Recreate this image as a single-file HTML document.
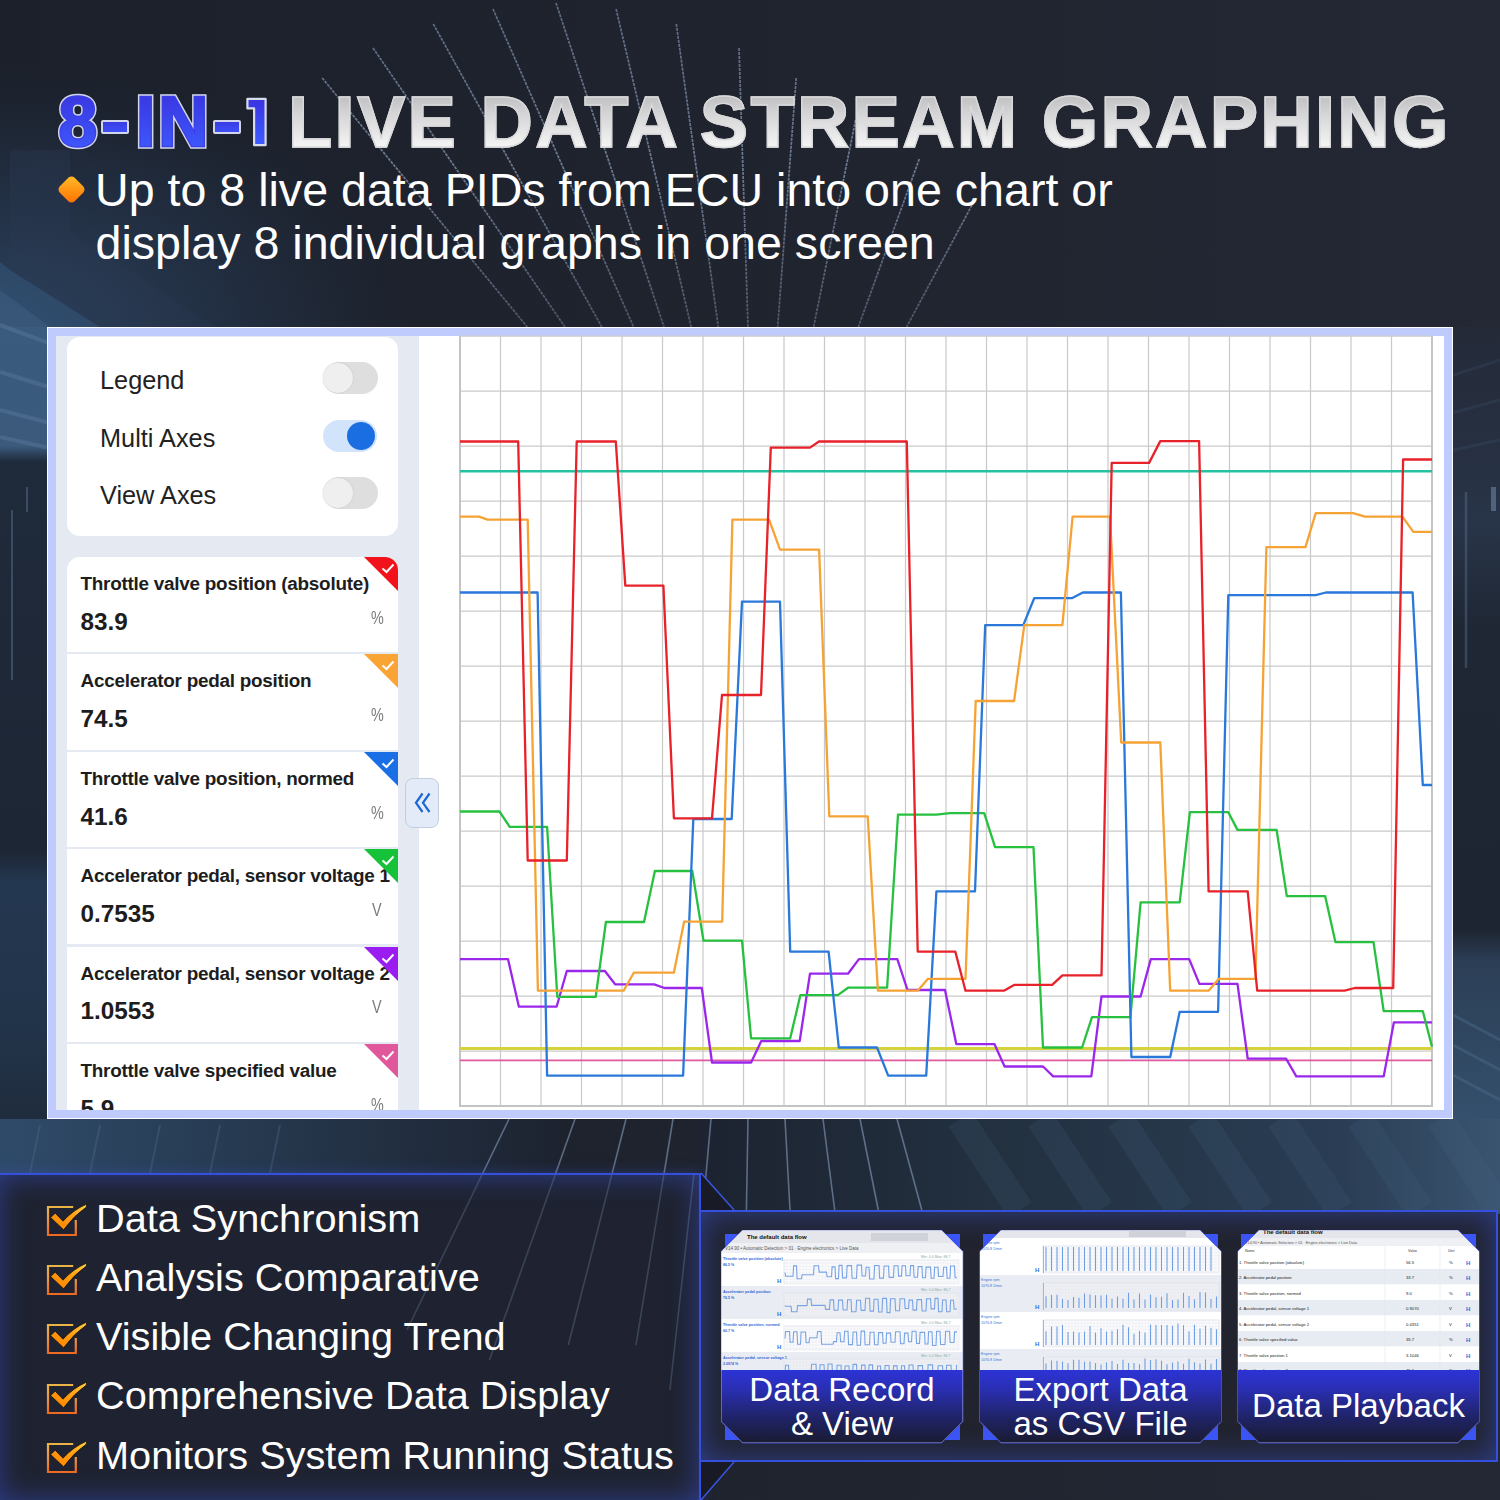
<!DOCTYPE html><html><head><meta charset="utf-8"><title>8-in-1 Live Data Stream Graphing</title>
<style>
*{margin:0;padding:0;box-sizing:border-box}
html,body{width:1500px;height:1500px;overflow:hidden;background:#1f2330}
body{position:relative;font-family:"Liberation Sans",sans-serif}
.abs{position:absolute}
.t1{font-weight:700;font-size:72.5px;line-height:1;white-space:nowrap;letter-spacing:2.25px}
.blue8{background:linear-gradient(180deg,#3a33de,#3d5dff);-webkit-background-clip:text;background-clip:text;-webkit-text-fill-color:transparent}
.silver{background:linear-gradient(180deg,#b4b4b6 0%,#d6d6d8 40%,#ffffff 100%);-webkit-background-clip:text;background-clip:text;color:transparent;-webkit-text-fill-color:transparent;-webkit-text-stroke:1.4px #d9d9da}
.sub{color:#fff;font-size:46.6px;line-height:1;white-space:nowrap}
.card{background:#fff}
.ttl{font-size:18.9px;font-weight:700;color:#1d1d1d;white-space:nowrap;line-height:1;letter-spacing:-0.25px}
.val{font-size:24.3px;font-weight:700;color:#1d1d1d;white-space:nowrap;line-height:1}
.unit{font-size:18px;color:#7a7a7a;line-height:1;transform:scaleX(0.8);transform-origin:left}
.tg{font-size:25.3px;color:#222;line-height:1;white-space:nowrap}
.feat{color:#fff;font-size:39.7px;line-height:1;white-space:nowrap}
.lab{background:linear-gradient(180deg,#2c33d6 0%,#2a2fb4 25%,#1f2366 65%,#191b2e 100%)}
.labt{color:#fff;font-size:33px;line-height:1;text-align:center;white-space:nowrap}
</style></head><body>
<svg class="abs" style="left:0;top:0" width="1500" height="1500" viewBox="0 0 1500 1500">
<defs>
<linearGradient id="bgTop" x1="0" y1="0" x2="1" y2="0">
 <stop offset="0" stop-color="#1b202a"/><stop offset="0.55" stop-color="#20242f"/><stop offset="1" stop-color="#242834"/>
</linearGradient>
<radialGradient id="glowTL" cx="0" cy="1" r="1">
 <stop offset="0" stop-color="#35577c" stop-opacity="1"/><stop offset="0.6" stop-color="#2a4262" stop-opacity="0.5"/><stop offset="1" stop-color="#22324a" stop-opacity="0"/>
</radialGradient>
<linearGradient id="belowL" x1="0" y1="0" x2="1" y2="0">
 <stop offset="0" stop-color="#2f4b6a"/><stop offset="0.45" stop-color="#26394f"/><stop offset="1" stop-color="#1d2330"/>
</linearGradient>
<linearGradient id="belowR" x1="0" y1="0" x2="1" y2="0">
 <stop offset="0" stop-color="#1d2330"/><stop offset="0.35" stop-color="#22303f"/><stop offset="0.8" stop-color="#2a3d54"/><stop offset="1" stop-color="#3a5470"/>
</linearGradient>
<linearGradient id="leftWall" x1="0" y1="0" x2="0" y2="1">
 <stop offset="0" stop-color="#3a5a7e"/><stop offset="0.15" stop-color="#3b5a7c"/><stop offset="0.17" stop-color="#1f2a3a"/>
 <stop offset="0.66" stop-color="#1d2635"/><stop offset="0.7" stop-color="#243750"/><stop offset="0.88" stop-color="#22344a"/><stop offset="1" stop-color="#1f2c3d"/>
</linearGradient>
<linearGradient id="rightWall" x1="0" y1="0" x2="0" y2="1">
 <stop offset="0" stop-color="#242a38"/><stop offset="0.25" stop-color="#283448"/><stop offset="0.38" stop-color="#1f2734"/>
 <stop offset="0.76" stop-color="#1e2532"/><stop offset="0.8" stop-color="#2c3e56"/><stop offset="1" stop-color="#34506c"/>
</linearGradient>
<linearGradient id="stk" gradientUnits="userSpaceOnUse" x1="0" y1="0" x2="0" y2="330">
 <stop offset="0" stop-color="#a9c2e6" stop-opacity="0.45"/><stop offset="0.5" stop-color="#b8cff0" stop-opacity="0.5"/><stop offset="1" stop-color="#b8cff0" stop-opacity="0.3"/>
</linearGradient>
</defs>
<rect x="0" y="0" width="1500" height="1500" fill="url(#bgTop)"/>
<rect x="0" y="60" width="420" height="270" fill="url(#glowTL)" opacity="0.7"/>
<polygon points="10,150 70,150 70,232 215,327 100,327 10,270" fill="#2a3a54" opacity="0.35"/>
<polygon points="0,262 10,270 100,327 0,327" fill="#35557a" opacity="0.55"/>
<polygon points="0,290 50,327 0,327" fill="#4a6c92" opacity="0.3"/>
<rect x="0" y="327" width="47" height="793" fill="url(#leftWall)"/>
<line x1="0" y1="325" x2="47" y2="342.4" stroke="#5a7a9e" stroke-opacity="0.45" stroke-width="4"/>
<line x1="0" y1="372" x2="47" y2="386.5" stroke="#5a7a9e" stroke-opacity="0.45" stroke-width="4"/>
<line x1="0" y1="410" x2="47" y2="422.2" stroke="#5a7a9e" stroke-opacity="0.45" stroke-width="4"/>
<line x1="0" y1="437" x2="47" y2="447.5" stroke="#5a7a9e" stroke-opacity="0.45" stroke-width="4"/>
<line x1="12" y1="510" x2="12" y2="680" stroke="#5a7898" stroke-opacity="0.45" stroke-width="2"/>
<line x1="27" y1="487" x2="27" y2="512" stroke="#5a7898" stroke-opacity="0.45" stroke-width="2"/>
<rect x="1453" y="327" width="47" height="793" fill="url(#rightWall)"/>
<line x1="1466" y1="492" x2="1466" y2="668" stroke="#5a7898" stroke-opacity="0.4" stroke-width="2.5"/>
<rect x="1491" y="487" width="5" height="24" fill="#6a84a0" opacity="0.6"/>
<line x1="1500" y1="360" x2="1453" y2="375.3" stroke="#4a6686" stroke-opacity="0.18" stroke-width="3"/>
<line x1="1500" y1="400" x2="1453" y2="412.8" stroke="#4a6686" stroke-opacity="0.18" stroke-width="3"/>
<line x1="1500" y1="440" x2="1453" y2="450.3" stroke="#4a6686" stroke-opacity="0.18" stroke-width="3"/>
<line x1="1453" y1="1015" x2="1500" y2="1040" stroke="#4c6a8c" stroke-opacity="0.45" stroke-width="3"/>
<line x1="1453" y1="1045" x2="1500" y2="1070" stroke="#4c6a8c" stroke-opacity="0.45" stroke-width="3"/>
<line x1="1453" y1="1075" x2="1500" y2="1100" stroke="#4c6a8c" stroke-opacity="0.45" stroke-width="3"/>
<rect x="0" y="1119" width="560" height="60" fill="url(#belowL)"/>
<rect x="700" y="1119" width="800" height="95" fill="url(#belowR)"/>
<line x1="40" y1="1125" x2="30" y2="1173" stroke="#4f6e90" stroke-opacity="0.35" stroke-width="2"/>
<line x1="100" y1="1125" x2="90" y2="1173" stroke="#4f6e90" stroke-opacity="0.35" stroke-width="2"/>
<line x1="160" y1="1125" x2="150" y2="1173" stroke="#4f6e90" stroke-opacity="0.35" stroke-width="2"/>
<line x1="220" y1="1125" x2="210" y2="1173" stroke="#4f6e90" stroke-opacity="0.35" stroke-width="2"/>
<line x1="280" y1="1125" x2="270" y2="1173" stroke="#4f6e90" stroke-opacity="0.35" stroke-width="2"/>
<line x1="960" y1="1119" x2="1020" y2="1210" stroke="#4a6888" stroke-opacity="0.16" stroke-width="28"/>
<line x1="1040" y1="1119" x2="1100" y2="1210" stroke="#4a6888" stroke-opacity="0.16" stroke-width="28"/>
<line x1="1120" y1="1119" x2="1180" y2="1210" stroke="#4a6888" stroke-opacity="0.16" stroke-width="28"/>
<line x1="1200" y1="1119" x2="1260" y2="1210" stroke="#4a6888" stroke-opacity="0.16" stroke-width="28"/>
<line x1="1280" y1="1119" x2="1340" y2="1210" stroke="#4a6888" stroke-opacity="0.16" stroke-width="28"/>
<line x1="1360" y1="1119" x2="1420" y2="1210" stroke="#4a6888" stroke-opacity="0.16" stroke-width="28"/>
<line x1="1440" y1="1119" x2="1500" y2="1210" stroke="#4a6888" stroke-opacity="0.16" stroke-width="28"/>
<line x1="322.2" y1="78" x2="527.3" y2="327" stroke="url(#stk)" stroke-width="1.7" stroke-dasharray="3 1"/>
<line x1="373.0" y1="48" x2="565.0" y2="327" stroke="url(#stk)" stroke-width="1.7" stroke-dasharray="3 1"/>
<line x1="433.3" y1="24" x2="601.8" y2="327" stroke="url(#stk)" stroke-width="1.7" stroke-dasharray="3 1"/>
<line x1="493.0" y1="9" x2="633.6" y2="327" stroke="url(#stk)" stroke-width="1.7" stroke-dasharray="3 1"/>
<line x1="556.0" y1="3" x2="664.0" y2="327" stroke="url(#stk)" stroke-width="1.7" stroke-dasharray="3 1"/>
<line x1="616.1" y1="9" x2="691.2" y2="327" stroke="url(#stk)" stroke-width="1.7" stroke-dasharray="3 1"/>
<line x1="676.3" y1="24" x2="718.3" y2="327" stroke="url(#stk)" stroke-width="1.7" stroke-dasharray="3 1"/>
<line x1="739.0" y1="48" x2="748.0" y2="327" stroke="url(#stk)" stroke-width="1.7" stroke-dasharray="3 1"/>
<line x1="796.2" y1="78" x2="777.7" y2="327" stroke="url(#stk)" stroke-width="1.7" stroke-dasharray="3 1"/>
<line x1="855.6" y1="120" x2="813.6" y2="327" stroke="url(#stk)" stroke-width="1.7" stroke-dasharray="3 1"/>
<line x1="919.3" y1="159" x2="858.3" y2="327" stroke="url(#stk)" stroke-width="1.7" stroke-dasharray="3 1"/>
<line x1="975.8" y1="198" x2="906.6" y2="327" stroke="url(#stk)" stroke-width="1.7" stroke-dasharray="3 1"/>
<line x1="509" y1="1119" x2="465.0" y2="1210" stroke="#a8c4e8" stroke-opacity="0.45" stroke-width="1.6"/>
<line x1="575" y1="1119" x2="542.7" y2="1210" stroke="#a8c4e8" stroke-opacity="0.45" stroke-width="1.6"/>
<line x1="626" y1="1119" x2="602.8" y2="1210" stroke="#a8c4e8" stroke-opacity="0.45" stroke-width="1.6"/>
<line x1="673" y1="1119" x2="658.1" y2="1210" stroke="#a8c4e8" stroke-opacity="0.45" stroke-width="1.6"/>
<line x1="711" y1="1119" x2="702.8" y2="1210" stroke="#a8c4e8" stroke-opacity="0.45" stroke-width="1.6"/>
<line x1="748" y1="1119" x2="746.4" y2="1210" stroke="#a8c4e8" stroke-opacity="0.45" stroke-width="1.6"/>
<line x1="785" y1="1119" x2="790.0" y2="1210" stroke="#a8c4e8" stroke-opacity="0.45" stroke-width="1.6"/>
<line x1="823" y1="1119" x2="834.7" y2="1210" stroke="#a8c4e8" stroke-opacity="0.45" stroke-width="1.6"/>
<line x1="860" y1="1119" x2="878.3" y2="1210" stroke="#a8c4e8" stroke-opacity="0.45" stroke-width="1.6"/>
<line x1="897" y1="1119" x2="921.8" y2="1210" stroke="#a8c4e8" stroke-opacity="0.45" stroke-width="1.6"/>
</svg>
<svg class="abs" style="left:0;top:0" width="300" height="160" viewBox="0 0 300 160"><defs><linearGradient id="b1" x1="0" y1="0" x2="0" y2="1"><stop offset="0" stop-color="#3a33e0"/><stop offset="1" stop-color="#3d5cff"/></linearGradient></defs><path d="M247.4 98.8H265.6V145.2H254.1V108.4H247.4Z" fill="url(#b1)" stroke="#d8dbee" stroke-width="2.2" stroke-linejoin="round"/></svg>
<div class="abs t1" style="left:58.5px;top:88.2px;font-size:69.5px;letter-spacing:0;color:transparent;-webkit-text-stroke:5.5px #d3d6ea">8</div>
<div class="abs t1" style="left:58.5px;top:88.2px;font-size:69.5px;letter-spacing:0;color:#3a47ec;-webkit-text-stroke:2.6px #3a40e6">8</div>
<div class="abs t1 blue8" style="left:58.5px;top:88.2px;font-size:69.5px;letter-spacing:0;">8</div>
<div class="abs t1" style="left:136px;top:88.2px;font-size:69.5px;letter-spacing:0;color:transparent;-webkit-text-stroke:5.5px #d3d6ea">I</div>
<div class="abs t1" style="left:136px;top:88.2px;font-size:69.5px;letter-spacing:0;color:#3a47ec;-webkit-text-stroke:2.6px #3a40e6">I</div>
<div class="abs t1 blue8" style="left:136px;top:88.2px;font-size:69.5px;letter-spacing:0;">I</div>
<div class="abs t1" style="left:158.2px;top:88.2px;font-size:69.5px;letter-spacing:0;color:transparent;-webkit-text-stroke:5.5px #d3d6ea">N</div>
<div class="abs t1" style="left:158.2px;top:88.2px;font-size:69.5px;letter-spacing:0;color:#3a47ec;-webkit-text-stroke:2.6px #3a40e6">N</div>
<div class="abs t1 blue8" style="left:158.2px;top:88.2px;font-size:69.5px;letter-spacing:0;">N</div>
<div class="abs" style="left:101.3px;top:119.5px;width:28px;height:14.5px;border-radius:2px;background:linear-gradient(180deg,#3a3ce6,#3d50f6);border:2px solid #d3d6ea"></div>
<div class="abs" style="left:213.3px;top:119.5px;width:28px;height:14.5px;border-radius:2px;background:linear-gradient(180deg,#3a3ce6,#3d50f6);border:2px solid #d3d6ea"></div>
<div class="abs t1 silver" style="left:288px;top:85.6px">LIVE DATA STREAM GRAPHING</div>
<div class="abs" style="left:60.5px;top:178.8px;width:21px;height:21px;border-radius:4.5px;transform:rotate(45deg);background:linear-gradient(135deg,#ffbf2a,#ff6d00)"></div>
<div class="abs sub" style="left:95px;top:166.5px">Up to 8 live data PIDs from ECU into one chart or</div>
<div class="abs sub" style="left:95.5px;top:220.4px">display 8 individual graphs in one screen</div>
<div class="abs" style="left:47px;top:327px;width:1406px;height:792px;background:#fff"></div>
<div class="abs" style="left:48px;top:328px;width:1404px;height:790px;background:#bfcbfd"></div>
<div class="abs" style="left:56px;top:336px;width:1388px;height:774px;background:#fff"></div>
<div class="abs" style="left:56px;top:336px;width:363px;height:774px;background:#e5eaf2"></div>
<div class="abs" style="left:67px;top:337px;width:331px;height:199px;background:#fff;border-radius:13px"></div>
<div class="abs tg" style="left:100px;top:368.0px">Legend</div>
<div class="abs tg" style="left:100px;top:426.0px">Multi Axes</div>
<div class="abs tg" style="left:100px;top:483.4px">View Axes</div>
<div class="abs" style="left:323px;top:362px;width:55px;height:32px;border-radius:16px;background:#dedede"></div>
<div class="abs" style="left:323px;top:363px;width:30px;height:30px;border-radius:15px;background:#efefef;box-shadow:0 0 2px rgba(0,0,0,0.13)"></div>
<div class="abs" style="left:323px;top:477px;width:55px;height:32px;border-radius:16px;background:#dedede"></div>
<div class="abs" style="left:323px;top:478px;width:30px;height:30px;border-radius:15px;background:#efefef;box-shadow:0 0 2px rgba(0,0,0,0.13)"></div>
<div class="abs" style="left:323px;top:419.5px;width:54px;height:32px;border-radius:16px;background:#d2e4fb"></div>
<div class="abs" style="left:346.5px;top:421.5px;width:28px;height:28px;border-radius:14px;background:#1a6ee2"></div>
<div class="abs" style="left:67px;top:557px;width:331px;height:553px;overflow:hidden;border-radius:13px 13px 0 0">
<div class="abs card" style="left:0;top:0.0px;width:331px;height:95.3px">
<div class="abs ttl" style="left:13.5px;top:18.0px">Throttle valve position (absolute)</div>
<div class="abs val" style="left:13.5px;top:52.9px">83.9</div>
<div class="abs unit" style="left:304px;top:51.8px">%</div>
<svg class="abs" style="left:297px;top:0" width="34" height="34" viewBox="0 0 34 34"><polygon points="0,0 34,0 34,34" fill="#f2121c"/><polyline points="18.5,11.5 22.5,15 29.5,7.5" fill="none" stroke="#fff" stroke-width="2"/></svg>
</div>
<div class="abs card" style="left:0;top:97.4px;width:331px;height:95.3px">
<div class="abs ttl" style="left:13.5px;top:18.0px">Accelerator pedal position</div>
<div class="abs val" style="left:13.5px;top:52.9px">74.5</div>
<div class="abs unit" style="left:304px;top:51.8px">%</div>
<svg class="abs" style="left:297px;top:0" width="34" height="34" viewBox="0 0 34 34"><polygon points="0,0 34,0 34,34" fill="#fba436"/><polyline points="18.5,11.5 22.5,15 29.5,7.5" fill="none" stroke="#fff" stroke-width="2"/></svg>
</div>
<div class="abs card" style="left:0;top:194.8px;width:331px;height:95.3px">
<div class="abs ttl" style="left:13.5px;top:18.0px">Throttle valve position, normed</div>
<div class="abs val" style="left:13.5px;top:52.9px">41.6</div>
<div class="abs unit" style="left:304px;top:51.8px">%</div>
<svg class="abs" style="left:297px;top:0" width="34" height="34" viewBox="0 0 34 34"><polygon points="0,0 34,0 34,34" fill="#1b6fe6"/><polyline points="18.5,11.5 22.5,15 29.5,7.5" fill="none" stroke="#fff" stroke-width="2"/></svg>
</div>
<div class="abs card" style="left:0;top:292.2px;width:331px;height:95.3px">
<div class="abs ttl" style="left:13.5px;top:18.0px">Accelerator pedal, sensor voltage 1</div>
<div class="abs val" style="left:13.5px;top:52.9px">0.7535</div>
<div class="abs unit" style="left:305px;top:51.8px">V</div>
<svg class="abs" style="left:297px;top:0" width="34" height="34" viewBox="0 0 34 34"><polygon points="0,0 34,0 34,34" fill="#15c23a"/><polyline points="18.5,11.5 22.5,15 29.5,7.5" fill="none" stroke="#fff" stroke-width="2"/></svg>
</div>
<div class="abs card" style="left:0;top:389.6px;width:331px;height:95.3px">
<div class="abs ttl" style="left:13.5px;top:18.0px">Accelerator pedal, sensor voltage 2</div>
<div class="abs val" style="left:13.5px;top:52.9px">1.0553</div>
<div class="abs unit" style="left:305px;top:51.8px">V</div>
<svg class="abs" style="left:297px;top:0" width="34" height="34" viewBox="0 0 34 34"><polygon points="0,0 34,0 34,34" fill="#9a1cf0"/><polyline points="18.5,11.5 22.5,15 29.5,7.5" fill="none" stroke="#fff" stroke-width="2"/></svg>
</div>
<div class="abs card" style="left:0;top:487.0px;width:331px;height:95.3px">
<div class="abs ttl" style="left:13.5px;top:18.0px">Throttle valve specified value</div>
<div class="abs val" style="left:13.5px;top:52.9px">5.9</div>
<div class="abs unit" style="left:304px;top:51.8px">%</div>
<svg class="abs" style="left:297px;top:0" width="34" height="34" viewBox="0 0 34 34"><polygon points="0,0 34,0 34,34" fill="#e0579c"/><polyline points="18.5,11.5 22.5,15 29.5,7.5" fill="none" stroke="#fff" stroke-width="2"/></svg>
</div>
</div>
<div class="abs" style="left:405px;top:777.5px;width:34px;height:50px;border-radius:8px;background:#e3ebf8;border:1.5px solid #c3cee0"></div>
<svg class="abs" style="left:405px;top:777px" width="34" height="51" viewBox="0 0 34 51"><path d="M17.5 16.5 L11 25.8 L17.5 35 M24.5 16.5 L18 25.8 L24.5 35" fill="none" stroke="#1c67d2" stroke-width="2.2"/></svg>
<svg class="abs" style="left:0;top:0" width="1500" height="1500" viewBox="0 0 1500 1500">
<path d="M460.0 336V1106 M500.5 336V1106 M541.0 336V1106 M581.5 336V1106 M622.0 336V1106 M662.5 336V1106 M703.0 336V1106 M743.5 336V1106 M784.0 336V1106 M824.5 336V1106 M865.0 336V1106 M905.5 336V1106 M946.0 336V1106 M986.5 336V1106 M1027.0 336V1106 M1067.5 336V1106 M1108.0 336V1106 M1148.5 336V1106 M1189.0 336V1106 M1229.5 336V1106 M1270.0 336V1106 M1310.5 336V1106 M1351.0 336V1106 M1391.5 336V1106 M1432.0 336V1106 M460 336.0H1432 M460 391.0H1432 M460 446.0H1432 M460 501.0H1432 M460 556.0H1432 M460 611.0H1432 M460 666.0H1432 M460 721.0H1432 M460 776.0H1432 M460 831.0H1432 M460 886.0H1432 M460 941.0H1432 M460 996.0H1432 M460 1051.0H1432 M460 1106.0H1432" stroke="#cacaca" stroke-width="1.25" fill="none"/>
<path d="M460 336V1106H1432V336" stroke="#c4c4c4" stroke-width="2" fill="none"/>
<line x1="460" y1="471.2" x2="1432" y2="471.2" stroke="#25c2a2" stroke-width="2.6"/>
<line x1="460" y1="1048.6" x2="1432" y2="1048.6" stroke="#d6d23c" stroke-width="3"/>
<line x1="460" y1="1060.4" x2="1432" y2="1060.4" stroke="#df5aa0" stroke-width="1.8"/>
<polyline points="460.0,959.1 508.0,959.1 518.9,1006.7 556.6,1006.7 566.8,971.0 604.9,971.0 615.1,984.3 654.2,984.3 664.4,988.0 701.8,988.0 712.0,1062.5 751.1,1062.5 761.3,1041.0 799.7,1041.0 810.0,973.7 848.0,973.7 858.9,959.1 897.3,959.1 907.5,990.0 945.0,990.0 956.3,1044.1 994.4,1044.1 1004.6,1066.5 1043.0,1066.5 1053.2,1076.4 1091.3,1076.4 1101.5,996.5 1140.6,996.5 1150.8,959.1 1189.2,959.1 1199.4,983.9 1237.5,983.9 1247.7,1058.7 1286.1,1058.7 1296.3,1076.4 1383.7,1076.4 1393.9,1022.3 1432.0,1022.3" fill="none" stroke="#9b27ec" stroke-width="2.3" stroke-linejoin="round"/>
<polyline points="460.0,811.5 499.5,811.5 509.7,826.8 547.1,826.8 557.3,996.8 595.7,996.8 605.9,922.0 644.0,922.0 654.9,871.0 692.3,871.0 703.5,940.7 742.0,940.7 751.1,1038.3 790.2,1038.3 800.4,995.1 837.8,995.1 848.0,987.7 887.1,987.7 898.0,814.6 936.4,814.6 950.0,813.2 984.2,813.2 995.1,847.2 1033.5,847.2 1043.0,1047.5 1082.1,1047.5 1092.0,1017.2 1130.4,1017.2 1140.6,902.3 1179.7,902.3 1189.9,812.2 1228.3,812.2 1237.5,829.9 1276.6,829.9 1286.8,896.2 1325.2,896.2 1335.4,942.1 1373.5,942.1 1383.7,1011.1 1422.8,1011.1 1432.0,1046.8" fill="none" stroke="#27c03f" stroke-width="2.3" stroke-linejoin="round"/>
<polyline points="460.0,592.5 537.6,592.5 547.1,1075.7 683.1,1075.7 693.3,819.0 731.7,819.0 742.0,601.6 780.0,601.6 790.2,951.6 828.6,951.6 838.8,1047.5 877.0,1047.5 888.2,1075.7 926.2,1075.7 936.4,891.4 975.0,891.4 985.2,625.1 1023.3,625.1 1034.2,598.2 1071.9,598.2 1082.8,592.5 1120.9,592.5 1131.4,1057.0 1170.2,1057.0 1179.7,1011.8 1218.1,1011.8 1228.3,595.2 1315.7,595.2 1325.9,592.5 1412.6,592.5 1422.8,785.0 1432.0,785.0" fill="none" stroke="#2a79da" stroke-width="2.3" stroke-linejoin="round"/>
<polyline points="460.0,516.6 479.1,516.6 487.6,519.7 527.7,519.7 537.9,990.7 623.6,990.7 633.8,972.7 673.9,972.7 684.1,921.7 722.2,921.7 732.4,519.7 769.1,519.7 780.0,549.6 819.1,549.6 829.3,816.3 867.7,816.3 877.9,990.7 917.7,990.7 928.0,978.8 965.5,978.8 975.7,701.0 1014.1,701.0 1024.3,625.1 1062.4,625.1 1072.6,516.6 1110.0,516.6 1121.2,742.5 1160.3,742.5 1170.2,990.7 1208.6,990.7 1218.8,978.8 1255.5,978.8 1266.4,547.2 1305.5,547.2 1315.7,513.2 1353.1,513.2 1365.0,516.6 1402.4,516.6 1413.3,531.9 1432.0,531.9" fill="none" stroke="#f6a336" stroke-width="2.3" stroke-linejoin="round"/>
<polyline points="460.0,441.5 518.2,441.5 527.7,860.5 566.8,860.5 576.7,441.5 615.8,441.5 625.3,585.6 663.4,585.6 673.9,818.3 712.0,818.3 722.0,695.0 761.0,695.0 770.8,447.6 810.0,447.6 819.0,441.5 906.8,441.5 917.7,951.6 955.3,951.6 965.5,990.7 1003.9,990.7 1014.1,984.9 1052.2,984.9 1062.4,975.4 1101.5,975.4 1111.7,462.9 1149.1,462.9 1160.3,441.1 1199.1,441.1 1208.6,891.4 1247.7,891.4 1257.2,990.7 1344.6,990.7 1354.8,988.0 1393.2,988.0 1403.1,459.5 1432.0,459.5" fill="none" stroke="#e8222a" stroke-width="2.3" stroke-linejoin="round"/>
</svg>
<div class="abs" style="left:-4px;top:1173px;width:705px;height:330px;background:#1f2331;border:2px solid #3550dc;box-shadow:inset 0 0 28px rgba(58,85,220,0.55), 0 0 12px rgba(58,85,220,0.35)"></div>
<svg class="abs" style="left:0;top:0" width="1500" height="1500" viewBox="0 0 1500 1500"><polygon points="701,1173 734,1210 701,1210" fill="#181b26"/><polygon points="701,1462 734,1462 701,1500" fill="#181b26"/><line x1="701" y1="1173" x2="734" y2="1210" stroke="#3a55e0" stroke-width="1.5"/><line x1="701" y1="1500" x2="734" y2="1462" stroke="#3a55e0" stroke-width="1.5"/></svg>
<div class="abs" style="left:701px;top:1210px;width:797px;height:252px;background:#21242f;border:2px solid #3550dc;border-left:none;box-shadow:inset 0 0 30px rgba(58,85,220,0.55)"></div>
<svg width="0" height="0" style="position:absolute"><defs><linearGradient id="ckg" x1="0" y1="0" x2="0" y2="1"><stop offset="0" stop-color="#e9b445"/><stop offset="0.5" stop-color="#e5954a"/><stop offset="1" stop-color="#ec6a22"/></linearGradient><linearGradient id="ckf" x1="1" y1="0" x2="0.3" y2="1"><stop offset="0" stop-color="#ffd84a"/><stop offset="0.45" stop-color="#ffa418"/><stop offset="1" stop-color="#ff8600"/></linearGradient></defs></svg>
<svg class="abs" style="left:0;top:0" width="1500" height="1500" viewBox="0 0 1500 1500"><line x1="481.9" y1="1175" x2="407.0" y2="1330" stroke="#9dbbe0" stroke-opacity="0.22" stroke-width="1.6"/><line x1="555.1" y1="1175" x2="489.5" y2="1360" stroke="#9dbbe0" stroke-opacity="0.22" stroke-width="1.6"/><line x1="611.7" y1="1175" x2="568.3" y2="1345" stroke="#9dbbe0" stroke-opacity="0.22" stroke-width="1.6"/><line x1="663.8" y1="1175" x2="636.0" y2="1345" stroke="#9dbbe0" stroke-opacity="0.22" stroke-width="1.6"/><line x1="693.8" y1="1175" x2="669.9" y2="1390" stroke="#9dbbe0" stroke-opacity="0.22" stroke-width="1.6"/></svg>
<div class="abs feat" style="left:96px;top:1198.8px">Data Synchronism</div>
<svg class="abs" style="left:46px;top:1203.0px" width="44" height="36" viewBox="0 0 44 36"><path d="M27.2 4H2V32H29.8V17" fill="none" stroke="url(#ckg)" stroke-width="2.2"/><path d="M4.6 14.6 L9.2 10.2 L17 18.2 Q27 7 40.8 1 L40.2 4.2 Q28 12.5 17.6 26.8 Z" fill="url(#ckf)" stroke="#1a1208" stroke-width="0.8" stroke-linejoin="round"/></svg>
<div class="abs feat" style="left:96px;top:1258.0px">Analysis Comparative</div>
<svg class="abs" style="left:46px;top:1262.2px" width="44" height="36" viewBox="0 0 44 36"><path d="M27.2 4H2V32H29.8V17" fill="none" stroke="url(#ckg)" stroke-width="2.2"/><path d="M4.6 14.6 L9.2 10.2 L17 18.2 Q27 7 40.8 1 L40.2 4.2 Q28 12.5 17.6 26.8 Z" fill="url(#ckf)" stroke="#1a1208" stroke-width="0.8" stroke-linejoin="round"/></svg>
<div class="abs feat" style="left:96px;top:1317.2px">Visible Changing Trend</div>
<svg class="abs" style="left:46px;top:1321.4px" width="44" height="36" viewBox="0 0 44 36"><path d="M27.2 4H2V32H29.8V17" fill="none" stroke="url(#ckg)" stroke-width="2.2"/><path d="M4.6 14.6 L9.2 10.2 L17 18.2 Q27 7 40.8 1 L40.2 4.2 Q28 12.5 17.6 26.8 Z" fill="url(#ckf)" stroke="#1a1208" stroke-width="0.8" stroke-linejoin="round"/></svg>
<div class="abs feat" style="left:96px;top:1376.4px">Comprehensive Data Display</div>
<svg class="abs" style="left:46px;top:1380.6px" width="44" height="36" viewBox="0 0 44 36"><path d="M27.2 4H2V32H29.8V17" fill="none" stroke="url(#ckg)" stroke-width="2.2"/><path d="M4.6 14.6 L9.2 10.2 L17 18.2 Q27 7 40.8 1 L40.2 4.2 Q28 12.5 17.6 26.8 Z" fill="url(#ckf)" stroke="#1a1208" stroke-width="0.8" stroke-linejoin="round"/></svg>
<div class="abs feat" style="left:96px;top:1435.6px">Monitors System Running Status</div>
<svg class="abs" style="left:46px;top:1439.8px" width="44" height="36" viewBox="0 0 44 36"><path d="M27.2 4H2V32H29.8V17" fill="none" stroke="url(#ckg)" stroke-width="2.2"/><path d="M4.6 14.6 L9.2 10.2 L17 18.2 Q27 7 40.8 1 L40.2 4.2 Q28 12.5 17.6 26.8 Z" fill="url(#ckf)" stroke="#1a1208" stroke-width="0.8" stroke-linejoin="round"/></svg>
<div class="abs" style="left:724.5px;top:1233.5px;width:235px;height:206px;background:#3b54f4"></div>
<div class="abs" style="left:720.5px;top:1229.5px;width:243px;height:214px;clip-path:polygon(22px 0,221px 0,243px 22px,243px 192px,221px 214px,22px 214px,0 192px,0 22px);background:#3a49d8">
<div class="abs" style="left:0;top:0;width:243px;height:214px;clip-path:polygon(22px 1px,221px 1px,242px 22px,242px 192px,221px 213px,22px 213px,1px 192px,1px 22px);background:#fff">
<svg class="abs" style="left:0;top:0;font-family:'Liberation Sans',sans-serif" width="243" height="141" viewBox="0 0 243 141">
<rect x="0" y="0" width="243" height="13" fill="#e4e6ec"/>
<rect x="150" y="3" width="57" height="8" fill="#cfd2d9"/>
<text x="26" y="9" font-size="6" font-weight="700" fill="#111">The default data flow</text>
<rect x="0" y="13" width="243" height="10" fill="#eef0f4"/>
<text x="4" y="20" font-size="4.5" fill="#555">V14.90 • Automatic Detection  &gt; 01 · Engine electronics &gt; Live Data</text>
<rect x="0" y="23" width="243" height="33" fill="#ffffff"/>
<rect x="63" y="30" width="175" height="24" fill="#fbfbfd" stroke="#dcdfe6" stroke-width="0.5"/>
<path d="M63.0 30V54 M66.2 30V54 M69.4 30V54 M72.6 30V54 M75.8 30V54 M79.0 30V54 M82.2 30V54 M85.4 30V54 M88.6 30V54 M91.8 30V54 M95.0 30V54 M98.2 30V54 M101.4 30V54 M104.6 30V54 M107.8 30V54 M111.0 30V54 M114.2 30V54 M117.4 30V54 M120.6 30V54 M123.8 30V54 M127.0 30V54 M130.2 30V54 M133.4 30V54 M136.6 30V54 M139.8 30V54 M143.0 30V54 M146.2 30V54 M149.4 30V54 M152.6 30V54 M155.8 30V54 M159.0 30V54 M162.2 30V54 M165.4 30V54 M168.6 30V54 M171.8 30V54 M175.0 30V54 M178.2 30V54 M181.4 30V54 M184.6 30V54 M187.8 30V54 M191.0 30V54 M194.2 30V54 M197.4 30V54 M200.6 30V54 M203.8 30V54 M207.0 30V54 M210.2 30V54 M213.4 30V54 M216.6 30V54 M219.8 30V54 M223.0 30V54 M226.2 30V54 M229.4 30V54 M232.6 30V54 M235.8 30V54 M63 30.0H238 M63 33.2H238 M63 36.4H238 M63 39.6H238 M63 42.8H238 M63 46.0H238 M63 49.2H238 M63 52.4H238" stroke="#e3e6ec" stroke-width="0.35" fill="none"/>
<text x="2" y="30" font-size="3.8" font-weight="700" fill="#2f66d6">Throttle valve position (absolute)</text>
<text x="2" y="36" font-size="3.6" font-weight="700" fill="#2f66d6">86.5 %</text>
<text x="200" y="28" font-size="3.6" fill="#8aa">Min: 0.0  Max: 86.7</text>
<text x="56" y="53" font-size="6" font-weight="700" fill="#2f6ee0">H</text>
<polyline points="64.0,42.5 64.6,46.2 72.0,46.2 72.6,35.9 75.5,35.9 76.1,48.8 80.5,48.8 81.1,44.8 92.5,44.8 93.1,35.8 97.5,35.8 98.1,42.1 105.5,42.1 106.1,46.7 110.5,46.7 111.1,36.9 114.0,36.9 114.6,48.6 117.5,48.6 118.1,35.4 121.0,35.4 121.6,47.9 125.5,47.9 126.1,35.6 130.5,35.6 131.1,48.2 135.5,48.2 136.1,35.1 140.5,35.1 141.1,46.0 144.5,46.0 145.1,37.2 148.0,37.2 148.6,49.0 153.0,49.0 153.6,35.5 158.0,35.5 158.6,48.1 162.5,48.1 163.1,36.0 167.5,36.0 168.1,47.4 172.5,47.4 173.1,35.7 177.0,35.7 177.6,46.1 180.5,46.1 181.1,35.7 184.5,35.7 185.1,45.7 189.0,45.7 189.6,35.6 192.5,35.6 193.1,47.2 196.5,47.2 197.1,36.6 201.0,36.6 201.6,47.8 204.5,47.8 205.1,37.1 209.5,37.1 210.1,48.2 213.0,48.2 213.6,37.2 217.0,37.2 217.6,46.5 222.0,46.5 222.6,37.2 225.5,37.2 226.1,48.3 229.0,48.3 229.6,36.0 233.5,36.0 234.1,47.7 236.0,47.7" fill="none" stroke="#78a4e6" stroke-width="1.1"/>
<rect x="0" y="56" width="243" height="33" fill="#e9edf3"/>
<rect x="63" y="63" width="175" height="24" fill="#eef0f4" stroke="#dcdfe6" stroke-width="0.5"/>
<path d="M63.0 63V87 M66.2 63V87 M69.4 63V87 M72.6 63V87 M75.8 63V87 M79.0 63V87 M82.2 63V87 M85.4 63V87 M88.6 63V87 M91.8 63V87 M95.0 63V87 M98.2 63V87 M101.4 63V87 M104.6 63V87 M107.8 63V87 M111.0 63V87 M114.2 63V87 M117.4 63V87 M120.6 63V87 M123.8 63V87 M127.0 63V87 M130.2 63V87 M133.4 63V87 M136.6 63V87 M139.8 63V87 M143.0 63V87 M146.2 63V87 M149.4 63V87 M152.6 63V87 M155.8 63V87 M159.0 63V87 M162.2 63V87 M165.4 63V87 M168.6 63V87 M171.8 63V87 M175.0 63V87 M178.2 63V87 M181.4 63V87 M184.6 63V87 M187.8 63V87 M191.0 63V87 M194.2 63V87 M197.4 63V87 M200.6 63V87 M203.8 63V87 M207.0 63V87 M210.2 63V87 M213.4 63V87 M216.6 63V87 M219.8 63V87 M223.0 63V87 M226.2 63V87 M229.4 63V87 M232.6 63V87 M235.8 63V87 M63 63.0H238 M63 66.2H238 M63 69.4H238 M63 72.6H238 M63 75.8H238 M63 79.0H238 M63 82.2H238 M63 85.4H238" stroke="#e3e6ec" stroke-width="0.35" fill="none"/>
<text x="2" y="63" font-size="3.8" font-weight="700" fill="#2f66d6">Accelerator pedal position</text>
<text x="2" y="69" font-size="3.6" font-weight="700" fill="#2f66d6">76.5 %</text>
<text x="200" y="61" font-size="3.6" fill="#8aa">Min: 0.0  Max: 86.7</text>
<text x="56" y="86" font-size="6" font-weight="700" fill="#2f6ee0">H</text>
<polyline points="64.0,75.5 64.6,76.3 70.0,76.3 70.6,81.7 76.0,81.7 76.6,75.6 86.0,75.6 86.6,69.1 90.0,69.1 90.6,75.4 98.0,75.4 98.6,75.4 104.0,75.4 104.6,79.4 108.5,79.4 109.1,69.9 112.5,69.9 113.1,80.2 117.0,80.2 117.6,70.1 121.5,70.1 122.1,80.0 126.0,80.0 126.6,69.8 130.0,69.8 130.6,81.7 135.0,81.7 135.6,70.2 139.5,70.2 140.1,80.4 144.0,80.4 144.6,68.3 148.5,68.3 149.1,81.1 152.5,81.1 153.1,69.3 157.0,69.3 157.6,82.0 161.0,82.0 161.6,68.4 165.5,68.4 166.1,82.6 169.0,82.6 169.6,68.8 174.0,68.8 174.6,80.7 178.5,80.7 179.1,68.7 183.5,68.7 184.1,78.5 187.5,78.5 188.1,70.1 191.5,70.1 192.1,80.1 195.5,80.1 196.1,69.6 200.5,69.6 201.1,81.0 205.0,81.0 205.6,68.8 209.5,68.8 210.1,78.9 213.5,78.9 214.1,68.4 217.0,68.4 217.6,81.8 221.0,81.8 221.6,70.0 225.0,70.0 225.6,81.7 229.0,81.7 229.6,70.2 232.5,70.2 233.1,79.0 236.0,79.0" fill="none" stroke="#78a4e6" stroke-width="1.1"/>
<rect x="0" y="89" width="243" height="33" fill="#ffffff"/>
<rect x="63" y="96" width="175" height="24" fill="#fbfbfd" stroke="#dcdfe6" stroke-width="0.5"/>
<path d="M63.0 96V120 M66.2 96V120 M69.4 96V120 M72.6 96V120 M75.8 96V120 M79.0 96V120 M82.2 96V120 M85.4 96V120 M88.6 96V120 M91.8 96V120 M95.0 96V120 M98.2 96V120 M101.4 96V120 M104.6 96V120 M107.8 96V120 M111.0 96V120 M114.2 96V120 M117.4 96V120 M120.6 96V120 M123.8 96V120 M127.0 96V120 M130.2 96V120 M133.4 96V120 M136.6 96V120 M139.8 96V120 M143.0 96V120 M146.2 96V120 M149.4 96V120 M152.6 96V120 M155.8 96V120 M159.0 96V120 M162.2 96V120 M165.4 96V120 M168.6 96V120 M171.8 96V120 M175.0 96V120 M178.2 96V120 M181.4 96V120 M184.6 96V120 M187.8 96V120 M191.0 96V120 M194.2 96V120 M197.4 96V120 M200.6 96V120 M203.8 96V120 M207.0 96V120 M210.2 96V120 M213.4 96V120 M216.6 96V120 M219.8 96V120 M223.0 96V120 M226.2 96V120 M229.4 96V120 M232.6 96V120 M235.8 96V120 M63 96.0H238 M63 99.2H238 M63 102.4H238 M63 105.6H238 M63 108.8H238 M63 112.0H238 M63 115.2H238 M63 118.4H238" stroke="#e3e6ec" stroke-width="0.35" fill="none"/>
<text x="2" y="96" font-size="3.8" font-weight="700" fill="#2f66d6">Throttle valve position, normed</text>
<text x="2" y="102" font-size="3.6" font-weight="700" fill="#2f66d6">60.7 %</text>
<text x="200" y="94" font-size="3.6" fill="#8aa">Min: 0.0  Max: 86.7</text>
<text x="56" y="119" font-size="6" font-weight="700" fill="#2f6ee0">H</text>
<polyline points="64.0,108.5 64.6,101.5 68.5,101.5 69.1,112.2 72.0,112.2 72.6,101.8 76.0,101.8 76.6,114.3 79.5,114.3 80.1,102.0 84.5,102.0 85.1,112.7 88.0,112.7 88.6,107.7 96.0,107.7 96.6,101.5 100.0,101.5 100.6,114.2 112.0,114.2 112.6,111.6 115.5,111.6 116.1,102.8 119.0,102.8 119.6,111.7 123.0,111.7 123.6,101.3 127.0,101.3 127.6,114.6 131.5,114.6 132.1,102.0 135.5,102.0 136.1,115.2 139.5,115.2 140.1,101.1 143.5,101.1 144.1,114.7 148.5,114.7 149.1,102.3 153.0,102.3 153.6,114.8 157.0,114.8 157.6,102.6 161.5,102.6 162.1,113.3 165.0,113.3 165.6,103.1 169.5,103.1 170.1,112.3 174.0,112.3 174.6,101.7 179.0,101.7 179.6,113.8 183.0,113.8 183.6,103.1 187.0,103.1 187.6,111.7 190.5,111.7 191.1,101.3 195.0,101.3 195.6,113.5 198.5,113.5 199.1,102.4 203.5,102.4 204.1,114.0 207.0,114.0 207.6,101.8 211.0,101.8 211.6,115.5 215.0,115.5 215.6,101.2 219.0,101.2 219.6,114.5 224.0,114.5 224.6,101.2 228.5,101.2 229.1,112.5 233.0,112.5 233.6,101.9 236.0,101.9" fill="none" stroke="#78a4e6" stroke-width="1.1"/>
<rect x="0" y="122" width="243" height="33" fill="#e9edf3"/>
<rect x="63" y="129" width="175" height="24" fill="#eef0f4" stroke="#dcdfe6" stroke-width="0.5"/>
<path d="M63.0 129V153 M66.2 129V153 M69.4 129V153 M72.6 129V153 M75.8 129V153 M79.0 129V153 M82.2 129V153 M85.4 129V153 M88.6 129V153 M91.8 129V153 M95.0 129V153 M98.2 129V153 M101.4 129V153 M104.6 129V153 M107.8 129V153 M111.0 129V153 M114.2 129V153 M117.4 129V153 M120.6 129V153 M123.8 129V153 M127.0 129V153 M130.2 129V153 M133.4 129V153 M136.6 129V153 M139.8 129V153 M143.0 129V153 M146.2 129V153 M149.4 129V153 M152.6 129V153 M155.8 129V153 M159.0 129V153 M162.2 129V153 M165.4 129V153 M168.6 129V153 M171.8 129V153 M175.0 129V153 M178.2 129V153 M181.4 129V153 M184.6 129V153 M187.8 129V153 M191.0 129V153 M194.2 129V153 M197.4 129V153 M200.6 129V153 M203.8 129V153 M207.0 129V153 M210.2 129V153 M213.4 129V153 M216.6 129V153 M219.8 129V153 M223.0 129V153 M226.2 129V153 M229.4 129V153 M232.6 129V153 M235.8 129V153 M63 129.0H238 M63 132.2H238 M63 135.4H238 M63 138.6H238 M63 141.8H238 M63 145.0H238 M63 148.2H238 M63 151.4H238" stroke="#e3e6ec" stroke-width="0.35" fill="none"/>
<text x="2" y="129" font-size="3.8" font-weight="700" fill="#2f66d6">Accelerator pedal, sensor voltage 1</text>
<text x="2" y="135" font-size="3.6" font-weight="700" fill="#2f66d6">2.0974 %</text>
<text x="200" y="127" font-size="3.6" fill="#8aa">Min: 0.0  Max: 86.7</text>
<text x="56" y="152" font-size="6" font-weight="700" fill="#2f6ee0">H</text>
<polyline points="64.0,141.5 64.6,135.2 67.5,135.2 68.1,147.0 73.5,147.0 74.1,147.6 78.0,147.6 78.6,141.6 90.0,141.6 90.6,134.2 95.0,134.2 95.6,148.1 98.5,148.1 99.1,134.8 103.0,134.8 103.6,145.2 106.5,145.2 107.1,134.0 111.0,134.0 111.6,145.4 115.5,145.4 116.1,135.2 120.0,135.2 120.6,145.6 123.5,145.6 124.1,136.0 128.0,136.0 128.6,146.4 131.5,146.4 132.1,134.4 135.5,134.4 136.1,146.8 140.0,146.8 140.6,135.1 144.0,135.1 144.6,146.1 147.5,146.1 148.1,134.9 151.5,134.9 152.1,147.4 156.0,147.4 156.6,136.0 159.5,136.0 160.1,148.5 163.5,148.5 164.1,135.5 168.0,135.5 168.6,147.3 172.0,147.3 172.6,135.9 176.0,135.9 176.6,145.2 180.0,145.2 180.6,135.8 183.5,135.8 184.1,148.9 187.5,148.9 188.1,135.0 192.0,135.0 192.6,147.3 196.5,147.3 197.1,135.6 201.5,135.6 202.1,148.8 206.5,148.8 207.1,134.9 211.5,134.9 212.1,148.6 216.5,148.6 217.1,135.7 221.5,135.7 222.1,145.0 225.0,145.0 225.6,135.2 230.0,135.2 230.6,145.4 235.0,145.4 235.6,135.2 236.0,135.2" fill="none" stroke="#78a4e6" stroke-width="1.1"/>
</svg>
<div class="abs lab" style="left:0;top:140.5px;width:243px;height:74px">
<div class="abs labt" style="left:0;width:243px;top:3.1px">Data Record</div>
<div class="abs labt" style="left:0;width:243px;top:36.6px">&amp; View</div>
</div>
</div></div>
<div class="abs" style="left:983px;top:1233.5px;width:235px;height:206px;background:#3b54f4"></div>
<div class="abs" style="left:979px;top:1229.5px;width:243px;height:214px;clip-path:polygon(22px 0,221px 0,243px 22px,243px 192px,221px 214px,22px 214px,0 192px,0 22px);background:#3a49d8">
<div class="abs" style="left:0;top:0;width:243px;height:214px;clip-path:polygon(22px 1px,221px 1px,242px 22px,242px 192px,221px 213px,22px 213px,1px 192px,1px 22px);background:#fff">
<svg class="abs" style="left:0;top:0;font-family:'Liberation Sans',sans-serif" width="243" height="141" viewBox="0 0 243 141">
<rect x="0" y="0" width="243" height="8" fill="#e4e6ec"/>
<rect x="150" y="0" width="57" height="7" fill="#cfd2d9"/>
<rect x="0" y="8" width="243" height="37" fill="#ffffff"/>
<rect x="64" y="16" width="176" height="27" fill="#fbfbfd" stroke="#dcdfe6" stroke-width="0.5"/>
<path d="M64.0 16V43 M67.2 16V43 M70.4 16V43 M73.6 16V43 M76.8 16V43 M80.0 16V43 M83.2 16V43 M86.4 16V43 M89.6 16V43 M92.8 16V43 M96.0 16V43 M99.2 16V43 M102.4 16V43 M105.6 16V43 M108.8 16V43 M112.0 16V43 M115.2 16V43 M118.4 16V43 M121.6 16V43 M124.8 16V43 M128.0 16V43 M131.2 16V43 M134.4 16V43 M137.6 16V43 M140.8 16V43 M144.0 16V43 M147.2 16V43 M150.4 16V43 M153.6 16V43 M156.8 16V43 M160.0 16V43 M163.2 16V43 M166.4 16V43 M169.6 16V43 M172.8 16V43 M176.0 16V43 M179.2 16V43 M182.4 16V43 M185.6 16V43 M188.8 16V43 M192.0 16V43 M195.2 16V43 M198.4 16V43 M201.6 16V43 M204.8 16V43 M208.0 16V43 M211.2 16V43 M214.4 16V43 M217.6 16V43 M220.8 16V43 M224.0 16V43 M227.2 16V43 M230.4 16V43 M233.6 16V43 M236.8 16V43 M240.0 16V43 M64 16.0H240 M64 19.2H240 M64 22.4H240 M64 25.6H240 M64 28.8H240 M64 32.0H240 M64 35.2H240 M64 38.4H240 M64 41.6H240" stroke="#e3e6ec" stroke-width="0.35" fill="none"/>
<line x1="64.5" y1="16" x2="64.5" y2="43" stroke="#e88" stroke-width="0.8"/>
<text x="2" y="14" font-size="3.6" fill="#3a6fd8">Engine rpm</text>
<text x="2" y="20" font-size="3.6" fill="#3a6fd8">1070.8 1/min</text>
<text x="56" y="42" font-size="6" font-weight="700" fill="#2f6ee0">H</text>
<path d="M67.0 41V17 M72.5 41V17 M78.0 41V17 M83.5 41V17 M89.0 41V17 M94.5 41V17 M100.0 41V17 M105.5 41V17 M111.0 41V17 M116.5 41V17 M122.0 41V17 M127.5 41V17 M133.0 41V17 M138.5 41V17 M144.0 41V17 M149.5 41V17 M155.0 41V17 M160.5 41V17 M166.0 41V17 M171.5 41V17 M177.0 41V17 M182.5 41V17 M188.0 41V17 M193.5 41V17 M199.0 41V17 M204.5 41V17 M210.0 41V17 M215.5 41V17 M221.0 41V17 M226.5 41V17 M232.0 41V17" stroke="#6f9fe4" stroke-width="1.1"/>
<rect x="0" y="45" width="243" height="37" fill="#e9edf3"/>
<rect x="64" y="53" width="176" height="27" fill="#eef0f4" stroke="#dcdfe6" stroke-width="0.5"/>
<path d="M64.0 53V80 M67.2 53V80 M70.4 53V80 M73.6 53V80 M76.8 53V80 M80.0 53V80 M83.2 53V80 M86.4 53V80 M89.6 53V80 M92.8 53V80 M96.0 53V80 M99.2 53V80 M102.4 53V80 M105.6 53V80 M108.8 53V80 M112.0 53V80 M115.2 53V80 M118.4 53V80 M121.6 53V80 M124.8 53V80 M128.0 53V80 M131.2 53V80 M134.4 53V80 M137.6 53V80 M140.8 53V80 M144.0 53V80 M147.2 53V80 M150.4 53V80 M153.6 53V80 M156.8 53V80 M160.0 53V80 M163.2 53V80 M166.4 53V80 M169.6 53V80 M172.8 53V80 M176.0 53V80 M179.2 53V80 M182.4 53V80 M185.6 53V80 M188.8 53V80 M192.0 53V80 M195.2 53V80 M198.4 53V80 M201.6 53V80 M204.8 53V80 M208.0 53V80 M211.2 53V80 M214.4 53V80 M217.6 53V80 M220.8 53V80 M224.0 53V80 M227.2 53V80 M230.4 53V80 M233.6 53V80 M236.8 53V80 M240.0 53V80 M64 53.0H240 M64 56.2H240 M64 59.4H240 M64 62.6H240 M64 65.8H240 M64 69.0H240 M64 72.2H240 M64 75.4H240 M64 78.6H240" stroke="#e3e6ec" stroke-width="0.35" fill="none"/>
<line x1="64.5" y1="53" x2="64.5" y2="80" stroke="#e88" stroke-width="0.8"/>
<text x="2" y="51" font-size="3.6" fill="#3a6fd8">Engine rpm</text>
<text x="2" y="57" font-size="3.6" fill="#3a6fd8">1070.8 1/min</text>
<text x="56" y="79" font-size="6" font-weight="700" fill="#2f6ee0">H</text>
<path d="M67.0 78V66.2 M72.5 78V64.7 M78.0 78V64.7 M83.5 78V68.9 M89.0 78V69.9 M94.5 78V67.0 M100.0 78V67.8 M105.5 78V63.5 M111.0 78V64.5 M116.5 78V65.2 M122.0 78V65.5 M127.5 78V64.7 M133.0 78V68.8 M138.5 78V66.5 M144.0 78V68.7 M149.5 78V62.8 M155.0 78V69.5 M160.5 78V63.4 M166.0 78V69.4 M171.5 78V64.5 M177.0 78V67.3 M182.5 78V66.8 M188.0 78V63.3 M193.5 78V69.9 M199.0 78V69.5 M204.5 78V62.7 M210.0 78V65.9 M215.5 78V69.3 M221.0 78V62.1 M226.5 78V62.4 M232.0 78V69.1 M237.5 78V66.6" stroke="#6f9fe4" stroke-width="1.1"/>
<rect x="0" y="82" width="243" height="37" fill="#ffffff"/>
<rect x="64" y="90" width="176" height="27" fill="#fbfbfd" stroke="#dcdfe6" stroke-width="0.5"/>
<path d="M64.0 90V117 M67.2 90V117 M70.4 90V117 M73.6 90V117 M76.8 90V117 M80.0 90V117 M83.2 90V117 M86.4 90V117 M89.6 90V117 M92.8 90V117 M96.0 90V117 M99.2 90V117 M102.4 90V117 M105.6 90V117 M108.8 90V117 M112.0 90V117 M115.2 90V117 M118.4 90V117 M121.6 90V117 M124.8 90V117 M128.0 90V117 M131.2 90V117 M134.4 90V117 M137.6 90V117 M140.8 90V117 M144.0 90V117 M147.2 90V117 M150.4 90V117 M153.6 90V117 M156.8 90V117 M160.0 90V117 M163.2 90V117 M166.4 90V117 M169.6 90V117 M172.8 90V117 M176.0 90V117 M179.2 90V117 M182.4 90V117 M185.6 90V117 M188.8 90V117 M192.0 90V117 M195.2 90V117 M198.4 90V117 M201.6 90V117 M204.8 90V117 M208.0 90V117 M211.2 90V117 M214.4 90V117 M217.6 90V117 M220.8 90V117 M224.0 90V117 M227.2 90V117 M230.4 90V117 M233.6 90V117 M236.8 90V117 M240.0 90V117 M64 90.0H240 M64 93.2H240 M64 96.4H240 M64 99.6H240 M64 102.8H240 M64 106.0H240 M64 109.2H240 M64 112.4H240 M64 115.6H240" stroke="#e3e6ec" stroke-width="0.35" fill="none"/>
<line x1="64.5" y1="90" x2="64.5" y2="117" stroke="#e88" stroke-width="0.8"/>
<text x="2" y="88" font-size="3.6" fill="#3a6fd8">Engine rpm</text>
<text x="2" y="94" font-size="3.6" fill="#3a6fd8">1070.8 1/min</text>
<text x="56" y="116" font-size="6" font-weight="700" fill="#2f6ee0">H</text>
<path d="M67.0 115V101.2 M72.5 115V96.5 M78.0 115V96.5 M83.5 115V94.7 M89.0 115V102.0 M94.5 115V101.5 M100.0 115V102.4 M105.5 115V101.5 M111.0 115V95.9 M116.5 115V102.6 M122.0 115V98.2 M127.5 115V101.6 M133.0 115V100.8 M138.5 115V99.3 M144.0 115V94.8 M149.5 115V97.3 M155.0 115V103.8 M160.5 115V101.0 M166.0 115V102.4 M171.5 115V94.4 M177.0 115V95.1 M182.5 115V95.1 M188.0 115V94.9 M193.5 115V95.8 M199.0 115V93.6 M204.5 115V95.3 M210.0 115V101.2 M215.5 115V94.7 M221.0 115V98.6 M226.5 115V95.7 M232.0 115V97.8 M237.5 115V99.3" stroke="#6f9fe4" stroke-width="1.1"/>
<rect x="0" y="119" width="243" height="37" fill="#e9edf3"/>
<rect x="64" y="127" width="176" height="27" fill="#eef0f4" stroke="#dcdfe6" stroke-width="0.5"/>
<path d="M64.0 127V154 M67.2 127V154 M70.4 127V154 M73.6 127V154 M76.8 127V154 M80.0 127V154 M83.2 127V154 M86.4 127V154 M89.6 127V154 M92.8 127V154 M96.0 127V154 M99.2 127V154 M102.4 127V154 M105.6 127V154 M108.8 127V154 M112.0 127V154 M115.2 127V154 M118.4 127V154 M121.6 127V154 M124.8 127V154 M128.0 127V154 M131.2 127V154 M134.4 127V154 M137.6 127V154 M140.8 127V154 M144.0 127V154 M147.2 127V154 M150.4 127V154 M153.6 127V154 M156.8 127V154 M160.0 127V154 M163.2 127V154 M166.4 127V154 M169.6 127V154 M172.8 127V154 M176.0 127V154 M179.2 127V154 M182.4 127V154 M185.6 127V154 M188.8 127V154 M192.0 127V154 M195.2 127V154 M198.4 127V154 M201.6 127V154 M204.8 127V154 M208.0 127V154 M211.2 127V154 M214.4 127V154 M217.6 127V154 M220.8 127V154 M224.0 127V154 M227.2 127V154 M230.4 127V154 M233.6 127V154 M236.8 127V154 M240.0 127V154 M64 127.0H240 M64 130.2H240 M64 133.4H240 M64 136.6H240 M64 139.8H240 M64 143.0H240 M64 146.2H240 M64 149.4H240 M64 152.6H240" stroke="#e3e6ec" stroke-width="0.35" fill="none"/>
<line x1="64.5" y1="127" x2="64.5" y2="154" stroke="#e88" stroke-width="0.8"/>
<text x="2" y="125" font-size="3.6" fill="#3a6fd8">Engine rpm</text>
<text x="2" y="131" font-size="3.6" fill="#3a6fd8">1070.8 1/min</text>
<text x="56" y="153" font-size="6" font-weight="700" fill="#2f6ee0">H</text>
<path d="M67.0 140.5V133.5 M72.5 140.5V130.4 M78.0 140.5V130.7 M83.5 140.5V131.6 M89.0 140.5V133.2 M94.5 140.5V129.7 M100.0 140.5V129.7 M105.5 140.5V131.4 M111.0 140.5V131.5 M116.5 140.5V133.1 M122.0 140.5V134.5 M127.5 140.5V132.3 M133.0 140.5V131.0 M138.5 140.5V134.1 M144.0 140.5V129.7 M149.5 140.5V133.1 M155.0 140.5V133.1 M160.5 140.5V134.2 M166.0 140.5V128.5 M171.5 140.5V130.1 M177.0 140.5V129.2 M182.5 140.5V130.8 M188.0 140.5V134.3 M193.5 140.5V132.5 M199.0 140.5V131.5 M204.5 140.5V133.8 M210.0 140.5V128.8 M215.5 140.5V132.3 M221.0 140.5V133.6 M226.5 140.5V129.6 M232.0 140.5V133.8 M237.5 140.5V128.9" stroke="#6f9fe4" stroke-width="1.1"/>
</svg>
<div class="abs lab" style="left:0;top:140.5px;width:243px;height:74px">
<div class="abs labt" style="left:0;width:243px;top:3.1px">Export Data</div>
<div class="abs labt" style="left:0;width:243px;top:36.6px">as CSV File</div>
</div>
</div></div>
<div class="abs" style="left:1241px;top:1233.5px;width:235px;height:206px;background:#3b54f4"></div>
<div class="abs" style="left:1237px;top:1229.5px;width:243px;height:214px;clip-path:polygon(22px 0,221px 0,243px 22px,243px 192px,221px 214px,22px 214px,0 192px,0 22px);background:#3a49d8">
<div class="abs" style="left:0;top:0;width:243px;height:214px;clip-path:polygon(22px 1px,221px 1px,242px 22px,242px 192px,221px 213px,22px 213px,1px 192px,1px 22px);background:#fff">
<svg class="abs" style="left:0;top:0;font-family:'Liberation Sans',sans-serif" width="243" height="141" viewBox="0 0 243 141">
<rect x="0" y="0" width="243" height="9" fill="#e4e6ec"/>
<text x="26" y="4" font-size="6" font-weight="700" fill="#111">The default data flow</text>
<rect x="0" y="8" width="243" height="8" fill="#eef0f4"/>
<text x="8" y="13.5" font-size="3.8" fill="#555">V14.90 • Automatic Selection  &gt; 01 · Engine electronics &gt; Live Data</text>
<rect x="0" y="16" width="243" height="8" fill="#fff"/>
<text x="8" y="21.5" font-size="3.6" fill="#333">Name</text>
<text x="171" y="21.5" font-size="3.6" fill="#333">Value</text>
<text x="211" y="21.5" font-size="3.6" fill="#333">Unit</text>
<rect x="0" y="23.5" width="243" height="15.5" fill="#ffffff"/>
<text x="2" y="33.5" font-size="4.2" fill="#222">1. Throttle valve position (absolute)</text>
<text x="169" y="33.5" font-size="4.2" fill="#222">56.5</text>
<text x="212" y="33.5" font-size="4.2" fill="#222">%</text>
<text x="229" y="34.5" font-size="6" font-weight="700" fill="#2f6ee0">H</text>
<rect x="0" y="39.0" width="243" height="15.5" fill="#e7ebf2"/>
<text x="2" y="49.0" font-size="4.2" fill="#222">2. Accelerator pedal position</text>
<text x="169" y="49.0" font-size="4.2" fill="#222">33.7</text>
<text x="212" y="49.0" font-size="4.2" fill="#222">%</text>
<text x="229" y="50.0" font-size="6" font-weight="700" fill="#2f6ee0">H</text>
<rect x="0" y="54.5" width="243" height="15.5" fill="#ffffff"/>
<text x="2" y="64.5" font-size="4.2" fill="#222">3. Throttle valve position, normed</text>
<text x="169" y="64.5" font-size="4.2" fill="#222">9.0</text>
<text x="212" y="64.5" font-size="4.2" fill="#222">%</text>
<text x="229" y="65.5" font-size="6" font-weight="700" fill="#2f6ee0">H</text>
<rect x="0" y="70.0" width="243" height="15.5" fill="#e7ebf2"/>
<text x="2" y="80.0" font-size="4.2" fill="#222">4. Accelerator pedal, sensor voltage 1</text>
<text x="169" y="80.0" font-size="4.2" fill="#222">0.9070</text>
<text x="212" y="80.0" font-size="4.2" fill="#222">V</text>
<text x="229" y="81.0" font-size="6" font-weight="700" fill="#2f6ee0">H</text>
<rect x="0" y="85.5" width="243" height="15.5" fill="#ffffff"/>
<text x="2" y="95.5" font-size="4.2" fill="#222">5. Accelerator pedal, sensor voltage 2</text>
<text x="169" y="95.5" font-size="4.2" fill="#222">0.4351</text>
<text x="212" y="95.5" font-size="4.2" fill="#222">V</text>
<text x="229" y="96.5" font-size="6" font-weight="700" fill="#2f6ee0">H</text>
<rect x="0" y="101.0" width="243" height="15.5" fill="#e7ebf2"/>
<text x="2" y="111.0" font-size="4.2" fill="#222">6. Throttle valve specified value</text>
<text x="169" y="111.0" font-size="4.2" fill="#222">35.7</text>
<text x="212" y="111.0" font-size="4.2" fill="#222">%</text>
<text x="229" y="112.0" font-size="6" font-weight="700" fill="#2f6ee0">H</text>
<rect x="0" y="116.5" width="243" height="15.5" fill="#ffffff"/>
<text x="2" y="126.5" font-size="4.2" fill="#222">7. Throttle valve position 1</text>
<text x="169" y="126.5" font-size="4.2" fill="#222">3.1046</text>
<text x="212" y="126.5" font-size="4.2" fill="#222">V</text>
<text x="229" y="127.5" font-size="6" font-weight="700" fill="#2f6ee0">H</text>
<rect x="0" y="132.0" width="243" height="15.5" fill="#e7ebf2"/>
<text x="2" y="142.0" font-size="4.2" fill="#222">8. Throttle valve position 2</text>
<text x="169" y="142.0" font-size="4.2" fill="#222">45.1</text>
<text x="212" y="142.0" font-size="4.2" fill="#222">%</text>
<text x="229" y="143.0" font-size="6" font-weight="700" fill="#2f6ee0">H</text>
<line x1="148" y1="16" x2="148" y2="141" stroke="#e3e6ec" stroke-width="0.6"/>
<line x1="203" y1="16" x2="203" y2="141" stroke="#e3e6ec" stroke-width="0.6"/>
</svg>
<div class="abs lab" style="left:0;top:140.5px;width:243px;height:74px">
<div class="abs labt" style="left:0;width:243px;top:19.1px">Data Playback</div>
</div>
</div></div>
</body></html>
